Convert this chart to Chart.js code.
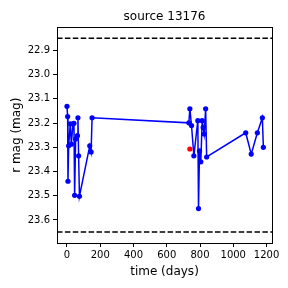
<!DOCTYPE html>
<html>
<head>
<meta charset="utf-8">
<script src="https://cdn.jsdelivr.net/npm/chart.js@4"></script>
<style>
  html, body { margin: 0; padding: 0; background: #fff; }
  canvas { display: block; }
</style>
</head>
<body>
<canvas id="chart" width="288" height="288"></canvas>
<script>
'use strict';

// Light curve (time in days, r magnitude)
const days = [0, 4, 6, 10, 20, 26, 36, 42, 46, 52, 63, 66, 70, 75, 137, 145, 151,
  733, 739, 749, 763, 787, 791, 797, 805, 813, 819, 825, 834, 840, 1075, 1108, 1145, 1175, 1181];
const mags = [23.131, 23.173, 23.440, 23.294, 23.203, 23.287, 23.203, 23.201, 23.498, 23.266, 23.252, 23.178, 23.335, 23.502, 23.294, 23.319, 23.178,
  23.199, 23.141, 23.210, 23.335, 23.190, 23.553, 23.315, 23.360, 23.190, 23.218, 23.245, 23.141, 23.340, 23.240, 23.328, 23.240, 23.178, 23.300];

// Highlighted point
const redDays = [739];
const redMags = [23.307];

// Dashed reference levels
const limitLevels = [22.85, 23.65];

// Axis ranges and ticks
const xRange = [-60, 1233];
const yRange = [22.805, 23.695];
const xTicks = [0, 200, 400, 600, 800, 1000, 1200];
const yTicks = [22.9, 23.0, 23.1, 23.2, 23.3, 23.4, 23.5, 23.6];

const FONT = 'DejaVu Sans';

// Build point lists from the arrays
const curve = days.map((d, i) => ({ x: d, y: mags[i] }));
const redPoints = redDays.map((d, i) => ({ x: d, y: redMags[i] }));
const limitSets = limitLevels.map(level => ({
  data: [{ x: xRange[0], y: level }, { x: xRange[1], y: level }],
  showLine: true,
  borderColor: '#000',
  borderWidth: 1.5,
  borderDash: [5.5, 2.4],
  pointRadius: 0,
  order: 3
}));

// Box around the plot area (matplotlib style)
const frame = {
  id: 'frame',
  afterDraw(chart) {
    const { ctx, chartArea: a } = chart;
    ctx.save();
    ctx.strokeStyle = '#000';
    ctx.lineWidth = 1;
    ctx.strokeRect(Math.round(a.left) + 0.5, Math.round(a.top) + 0.5,
      Math.round(a.right - a.left), Math.round(a.bottom - a.top));
    ctx.restore();
  }
};

new Chart(document.getElementById('chart'), {
  type: 'scatter',
  data: {
    datasets: [
      ...limitSets,
      {
        data: curve,
        showLine: true,
        borderColor: '#0000ff',
        backgroundColor: '#0000ff',
        borderWidth: 1.5,
        pointRadius: 2.6,
        pointBorderWidth: 0,
        order: 2
      },
      {
        data: redPoints,
        borderColor: '#ff0000',
        backgroundColor: '#ff0000',
        pointRadius: 2.6,
        pointBorderWidth: 0,
        order: 1
      }
    ]
  },
  options: {
    responsive: false,
    animation: false,
    devicePixelRatio: 1,
    layout: { padding: { left: 0, right: 16, top: 0, bottom: 0 } },
    plugins: {
      legend: { display: false },
      tooltip: { enabled: false },
      title: {
        display: true,
        text: 'source 13176',
        color: '#000',
        fullSize: false,
        font: { family: FONT, size: 12, weight: 'normal' },
        padding: { top: 10, bottom: 3 }
      }
    },
    scales: {
      x: {
        type: 'linear',
        min: xRange[0],
        max: xRange[1],
        afterBuildTicks: s => { s.ticks = xTicks.map(v => ({ value: v })); },
        afterFit: s => { s.height = 45; },
        grid: { drawOnChartArea: false, drawTicks: true, tickLength: 4, color: '#000' },
        border: { display: true, color: '#000' },
        ticks: {
          color: '#000',
          padding: 2,
          maxRotation: 0,
          font: { family: FONT, size: 10 },
          callback: v => String(v)
        },
        title: {
          display: true,
          text: 'time (days)',
          color: '#000',
          font: { family: FONT, size: 12 },
          padding: { top: 1, bottom: 9 }
        }
      },
      y: {
        type: 'linear',
        reverse: true,
        min: yRange[0],
        max: yRange[1],
        afterBuildTicks: s => { s.ticks = yTicks.map(v => ({ value: v })); },
        afterFit: s => { s.width = 57; },
        grid: { drawOnChartArea: false, drawTicks: true, tickLength: 4, color: '#000' },
        border: { display: true, color: '#000' },
        ticks: {
          color: '#000',
          padding: 3,
          font: { family: FONT, size: 10 },
          callback: v => Number(v).toFixed(1)
        },
        title: {
          display: true,
          text: 'r mag (mag)',
          color: '#000',
          font: { family: FONT, size: 12 },
          padding: { top: 10, bottom: 0 }
        }
      }
    }
  },
  plugins: [frame]
});
</script>
</body>
</html>
